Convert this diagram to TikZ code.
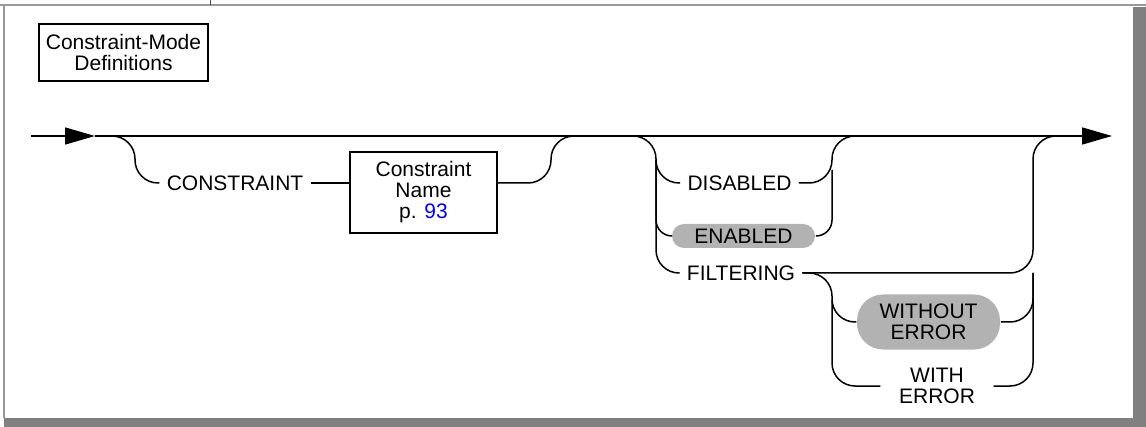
\documentclass[tikz,border=0pt]{standalone}
\usepackage{fontspec}
\setmainfont{Liberation Sans}
\usepackage{xcolor}
\usepackage{tikz}
\usetikzlibrary{calc, positioning, arrows.meta}

\begin{document}
\begin{tikzpicture}[x=0.5pt, y=-0.5pt, line width=0.75pt,
  every node/.style={font=\fontsize{10.5}{10.5}\selectfont},
  curva/.style={rounded corners=11.5pt},
  curvinha/.style={rounded corners=8pt},
  caixa/.style={draw, line width=1.1pt, align=center, inner sep=0pt},
  pilula/.style={fill=black!30, align=center, inner sep=0pt},
  ponta/.style={-{Triangle[length=15pt,width=8.5pt]}}]
\useasboundingbox (0,0) rectangle (1146,427);

% Desenhando a moldura (com sombra cinza a direita e embaixo):
\fill[black!50] (1133,7) rectangle (1146,427);
\fill[black!50] (4,418) rectangle (1146,427);
\draw[black!40, line width=1pt] (0,5) -- (1146,5);
\draw[black!40, line width=1pt] (4,5) -- (4,418);
\draw[black!70, line width=0.5pt] (210,0) -- (210,5);

% Desenhando o titulo:
\node[caixa, minimum width=84.5pt, minimum height=28.5pt] (titulo) at (123.5,52.5) {Constraint-Mode\\Definitions};

% Desenhando a linha principal com as duas setas:
\coordinate (inicio) at (31,136);
\coordinate (meio) at (95,136);
\coordinate (fim) at (1112,136);
\draw[ponta] (inicio) -- (meio);
\draw[ponta] (meio) -- (fim);

% Pontos onde os ramos saem e voltam:
\coordinate (a1) at (110,136);
\coordinate (a2) at (576,136);
\coordinate (b1) at (632,136);
\coordinate (b2) at (857,136);
\coordinate (c2) at (1055,136);

% Desenhando o ramo CONSTRAINT:
\node (constraint) at (235,183) {CONSTRAINT};
\node[caixa, minimum width=73.5pt, minimum height=40.5pt] (nome) at (423.5,192.5) {Constraint\\Name\\p. \textcolor{blue}{93}};
\draw[curva] (a1) -- (135,136) |- (constraint.west);
\draw (constraint.east) -- (constraint.east -| nome.west);
\draw[curva] (constraint -| nome.east) -| (551,136) -- (a2);

% Desenhando DISABLED, ENABLED e FILTERING:
\node (disabled) at (739.5,183) {DISABLED};
\node[pilula, minimum width=71.5pt, minimum height=12pt, rounded corners=6pt] (enabled) at (743.5,236) {ENABLED};
\node (filtering) at (741,273) {FILTERING};
\draw[curva] (b1) -- (656,136) |- (disabled.west);
\draw[curvinha] (656,160) |- (enabled.west);
\draw[curva] (656,160) |- (filtering.west);
\draw[curva] (disabled.east) -| (832,136) -- (b2);
\draw[curvinha] (enabled.east) -| (832,170);

% Desenhando WITHOUT ERROR e WITH ERROR:
\node[pilula, minimum width=71.5pt, minimum height=27.5pt, rounded corners=13pt] (without) at (928.5,322) {WITHOUT\\ERROR};
\node[align=center, inner xsep=9pt] (witherr) at (937,386) {WITH\\ERROR};
\draw[curva] (filtering.east) -| (1033,136) -- (c2);
\draw[curva] (filtering.east) -- (832,273) |- (without.west);
\draw[curva] (832,300) |- (witherr.west);
\draw[curva] (without.east) -| (1033,273);
\draw[curva] (witherr.east) -| (1033,273);
\end{tikzpicture}
\end{document}
